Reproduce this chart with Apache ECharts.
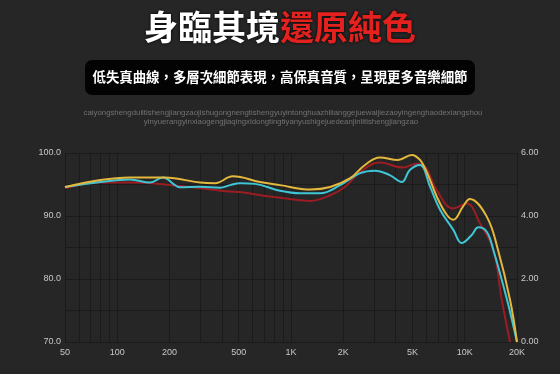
<!DOCTYPE html>
<html lang="zh-TW">
<head>
<meta charset="utf-8">
<script src="https://cdn.jsdelivr.net/npm/echarts@6/dist/echarts.min.js"></script>
<style>
html,body{margin:0;padding:0;background:#262626;}
#c{width:560px;height:374px;}
</style>
</head>
<body>
<div id="c" lang="zh-TW"></div>
<script>
const titleWhite = '身臨其境';
const titleRed = '還原純色';
const subtitle = '低失真曲線，多層次細節表現，高保真音質，呈現更多音樂細節';
const smallLine1 = 'caiyongshengdulitishengjiangzaojishugongnengtishengyuyintonghuazhilianggejuewaijiezaoyingenghaodexiangshou';
const smallLine2 = 'yinyuerangyinxiaogengjiaqingxidongtingtiyanyushigejuedeanjinlitishengjiangzao';

const freqLabels = [50, 100, 200, 500, 1000, 2000, 5000, 10000, 20000];
const freqGrid = [50, 60, 70, 80, 90, 100, 200, 300, 400, 500, 600, 700, 800, 900, 1000,
  2000, 3000, 4000, 5000, 6000, 7000, 8000, 9000, 10000, 20000];
const leftTicks = [70, 80, 90, 100];
const rightTicks = [0, 2, 4, 6];

const yellowFreq = [50, 80, 118, 188, 300, 365, 463, 662, 865, 1292, 1680, 2191, 2665, 3250, 4130, 4955, 5530, 6045, 6900, 7880, 8600, 9770, 10700, 13390, 15550, 18230, 20000];
const yellowVals = [94.6, 95.7, 96.1, 96.1, 95.3, 95.2, 96.3, 95.4, 94.9, 94.2, 94.6, 96.0, 98.1, 99.3, 98.9, 99.7, 98.9, 97.0, 93.1, 90.2, 89.4, 91.5, 92.7, 89.9, 84.6, 76.7, 70.0];

const cyanFreq = [50, 80, 118, 154, 183, 215, 229, 300, 391, 446, 509, 620, 865, 1130, 1470, 1920, 2500, 3040, 3700, 4340, 4830, 5530, 6315, 7210, 8600, 9610, 10980, 11980, 13390, 14620, 17520, 20000];
const cyanVals = [94.6, 95.4, 95.8, 95.3, 96.1, 94.9, 94.55, 94.65, 94.5, 94.9, 95.2, 95.1, 94.0, 93.6, 93.6, 94.9, 96.8, 97.2, 96.5, 95.4, 97.3, 98.1, 94.65, 91.0, 87.8, 85.7, 87.0, 88.2, 87.5, 84.6, 76.7, 70.0];

const redFreq = [50, 80, 118, 188, 300, 446, 509, 755, 1130, 1292, 1680, 2050, 2500, 3250, 4400, 5280, 5900, 6900, 8570, 10270, 12250, 14620, 16340, 18230];
const redVals = [94.4, 95.3, 95.3, 95.0, 94.4, 93.9, 93.8, 93.1, 92.5, 92.4, 93.3, 94.65, 97.0, 98.5, 97.7, 98.3, 97.9, 94.1, 91.2, 92.0, 88.8, 84.6, 76.7, 70.0];

const lg = v => Math.log10(v);
const pair = (fs, vs) => fs.map((f, i) => [lg(f), vs[i]]);
const fmtFreq = v => { const f = Math.round(Math.pow(10, v)); return f >= 1000 ? (f / 1000) + 'K' : String(f); };

const chart = echarts.init(document.getElementById('c'), null, {renderer: 'canvas'});
const cjk = '"Noto Sans CJK TC", "Noto Sans CJK SC", sans-serif';
const gridColor = '#1b1b1b';
const labelStyle = {color: '#c8c8c8', fontSize: 9, fontFamily: 'Liberation Sans, Arial, sans-serif'};

chart.setOption({
  backgroundColor: '#262626',
  animation: false,
  title: [{
    text: '{w|' + titleWhite + '}{r|' + titleRed + '}',
    left: 'center', top: 10, padding: 0,
    textStyle: {
      rich: {
        w: {color: '#ffffff', fontSize: 34, fontWeight: 'bold', fontFamily: cjk, textShadowColor: '#000', textShadowBlur: 3},
        r: {color: '#e3211f', fontSize: 34, fontWeight: 'bold', fontFamily: cjk, textShadowColor: '#000', textShadowBlur: 3}
      }
    }
  }],
  graphic: [
    {type: 'rect', shape: {x: 85, y: 60, width: 390, height: 35, r: 7}, style: {fill: '#030303'}},
    {type: 'text', x: 280, y: 77, style: {text: subtitle, fill: '#ffffff', font: 'bold 13.4px ' + cjk, align: 'center', verticalAlign: 'middle'}},
    {type: 'text', x: 283, y: 113, style: {text: smallLine1, fill: '#727272', font: '7.8px "Liberation Sans", Arial, sans-serif', align: 'center', verticalAlign: 'middle'}},
    {type: 'text', x: 281, y: 121.5, style: {text: smallLine2, fill: '#727272', font: '7.8px "Liberation Sans", Arial, sans-serif', align: 'center', verticalAlign: 'middle'}}
  ],
  grid: {left: 65, right: 43, top: 153, bottom: 32, containLabel: false},
  xAxis: {
    type: 'value', min: lg(50), max: lg(20000),
    axisLine: {show: false},
    axisTick: {show: false, customValues: freqGrid.map(lg)},
    splitLine: {show: true, lineStyle: {color: gridColor, width: 1}},
    axisLabel: Object.assign({customValues: freqLabels.map(lg), formatter: fmtFreq, margin: 6, showMinLabel: true, showMaxLabel: true}, labelStyle)
  },
  yAxis: [{
    type: 'value', min: 70, max: 100, interval: 5,
    axisLine: {show: false}, axisTick: {show: false},
    splitLine: {show: true, lineStyle: {color: gridColor, width: 1}},
    axisLabel: Object.assign({customValues: leftTicks, formatter: v => v.toFixed(1), margin: 4}, labelStyle)
  }, {
    type: 'value', min: 0, max: 6, interval: 1, position: 'right',
    axisLine: {show: false}, axisTick: {show: false},
    splitLine: {show: false},
    axisLabel: Object.assign({customValues: rightTicks, formatter: v => v.toFixed(2), margin: 4}, labelStyle)
  }],
  series: [
    {type: 'line', data: pair(redFreq, redVals), smooth: 0.4, symbol: 'none', lineStyle: {color: '#9a1d24', width: 2}, z: 3},
    {type: 'line', data: pair(cyanFreq, cyanVals), smooth: 0.4, symbol: 'none', lineStyle: {color: '#3ec6d6', width: 2}, z: 4},
    {type: 'line', data: pair(yellowFreq, yellowVals), smooth: 0.4, symbol: 'none', lineStyle: {color: '#e4b83c', width: 2}, z: 5}
  ]
});
</script>
</body>
</html>
